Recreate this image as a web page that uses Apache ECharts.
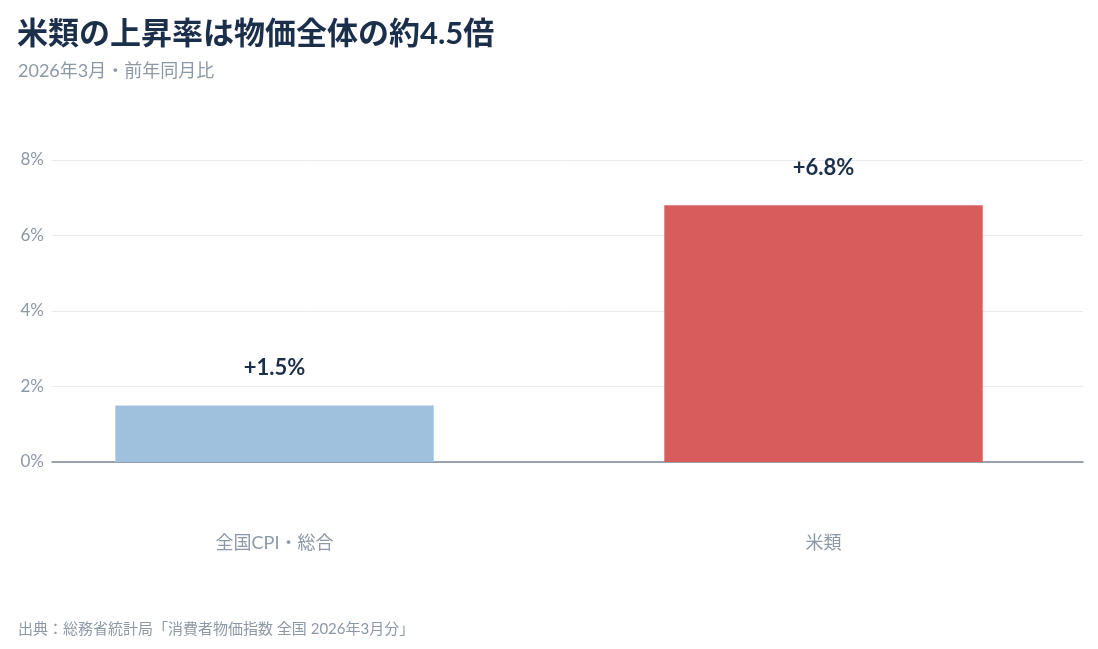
<!DOCTYPE html>
<html><head><meta charset="utf-8">
<script src="https://cdn.jsdelivr.net/npm/echarts@6/dist/echarts.min.js"></script>
<style>html,body{margin:0;padding:0;background:#fff}#c{width:1098px;height:649px}</style>
</head><body><div id="c"></div>
<script>
var categories = ['全国CPI・総合', '米類'];
var values = [1.5, 6.8];
var barColors = ['#9fc1de', '#d95c5c'];
var yTicks = [0, 2, 4, 6, 8];

var font = 'Lato, "Noto Sans CJK JP", sans-serif';
var chart = echarts.init(document.getElementById('c'));
var option = {
    backgroundColor: '#fff',
    textStyle: {fontFamily: font},
    title: [
        {text: '米類の上昇率は物価全体の約4.5倍', left: 12, top: 14,
         textStyle: {fontSize: 31, fontWeight: 'bold', color: '#1b2f4b', fontFamily: font}},
        {text: '2026年3月・前年同月比', left: 13, top: 57,
         textStyle: {fontSize: 18, fontWeight: 'normal', color: '#8d98a5', fontFamily: font}},
        {text: '出典：総務省統計局「消費者物価指数 全国 2026年3月分」', left: 13, top: 617,
         textStyle: {fontSize: 15, fontWeight: 'normal', color: '#8d98a5', fontFamily: font}}
    ],
    // grid 0: gridlines, y labels and baseline; grid 1: bars and category labels
    grid: [
        {left: 52, right: 15, top: 160, bottom: 187},
        {left: -27, right: -63, top: 160, bottom: 187}
    ],
    xAxis: [{
        type: 'category', gridIndex: 0, data: categories,
        axisLine: {lineStyle: {color: '#7a8796', width: 1.5}},
        axisTick: {show: false}, axisLabel: {show: false}
    }, {
        type: 'category', gridIndex: 1, data: categories,
        axisLine: {show: false}, axisTick: {show: false},
        axisLabel: {color: '#8d98a5', fontSize: 18, margin: 72, fontFamily: font}
    }],
    yAxis: [{
        type: 'value', gridIndex: 0, min: yTicks[0], max: yTicks[yTicks.length - 1], interval: 2,
        axisLabel: {formatter: '{value}%', color: '#8d98a5', fontSize: 17, margin: 8, fontFamily: font},
        splitLine: {lineStyle: {color: '#e8eaed'}},
        axisLine: {show: false}, axisTick: {show: false}
    }, {
        type: 'value', gridIndex: 1, min: yTicks[0], max: yTicks[yTicks.length - 1], interval: 2,
        axisLabel: {show: false}, splitLine: {show: false},
        axisLine: {show: false}, axisTick: {show: false}
    }],
    series: [{
        type: 'bar', xAxisIndex: 1, yAxisIndex: 1, barWidth: '58%', z: 1,
        data: values.map(function (v, i) { return {value: v, itemStyle: {color: barColors[i]}}; }),
        label: {
            show: true, position: 'top', distance: 26,
            formatter: function (p) { return '+' + p.value.toFixed(1) + '%'; },
            fontSize: 22, fontWeight: 'bold', color: '#1b2f4b', fontFamily: font
        }
    }]
};
chart.setOption(option);
</script></body></html>
